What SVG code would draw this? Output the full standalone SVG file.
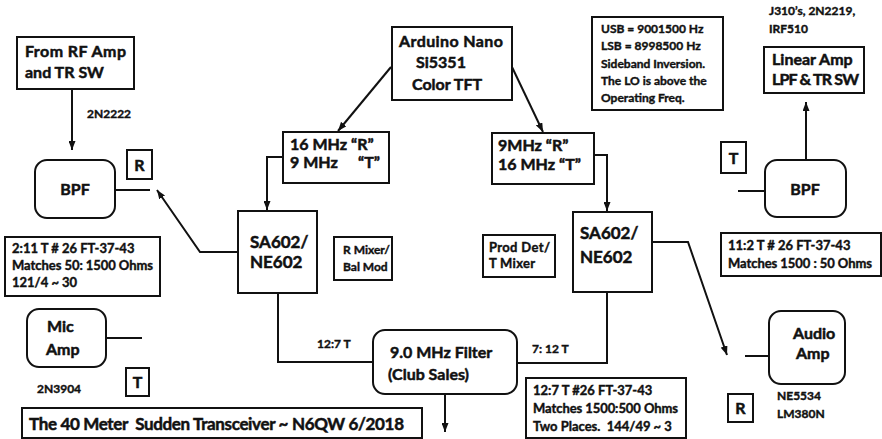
<svg xmlns="http://www.w3.org/2000/svg" width="882" height="439" viewBox="0 0 882 439">
<style>
.bx{fill:#fff;stroke:#111;stroke-width:2}
.ln{fill:none;stroke:#111;stroke-width:2}
.t{font-family:Lato,"Open Sans","Liberation Sans",sans-serif;font-weight:bold;fill:#111;stroke:#111;stroke-width:0.5}
.s16{font-size:16px}
.s17{font-size:17px}
.s12{font-size:12px;stroke-width:0.4}
.s13{font-size:13px;stroke-width:0.4}
.m{text-anchor:middle}
.pre{white-space:pre}
</style>
<defs>
<marker id="ah" markerUnits="userSpaceOnUse" markerWidth="9" markerHeight="7" refX="9" refY="3.5" orient="auto">
<path d="M0,0 L9,3.5 L0,7 z" fill="#111"/>
</marker>
</defs>
<rect width="882" height="439" fill="#fff"/>
<g id="connectors">
<line class="ln" x1="72" y1="89" x2="72" y2="150" marker-end="url(#ah)"/>
<line class="ln" x1="115" y1="190" x2="150" y2="190"/>
<path class="ln" d="M238,252 L200,252 L157,190" marker-end="url(#ah)"/>
<line class="ln" x1="391" y1="67" x2="338" y2="131" marker-end="url(#ah)"/>
<line class="ln" x1="512" y1="67" x2="543" y2="132" marker-end="url(#ah)"/>
<path class="ln" d="M283,157 L267,157 L267,210" marker-end="url(#ah)"/>
<path class="ln" d="M594,155 L607,155 L607,211" marker-end="url(#ah)"/>
<line class="ln" x1="106" y1="338" x2="142" y2="338"/>
<path class="ln" d="M278,293 L278,362 L373,362"/>
<line class="ln" x1="445" y1="394" x2="445" y2="432" marker-end="url(#ah)"/>
<path class="ln" d="M607,292 L607,363 L517,363"/>
<path class="ln" d="M652,242 L688,242 L727,355" marker-end="url(#ah)"/>
<line class="ln" x1="745" y1="356" x2="769" y2="356"/>
<line class="ln" x1="738" y1="191" x2="765" y2="191"/>
<line class="ln" x1="806" y1="160" x2="806" y2="102" marker-end="url(#ah)"/>
</g>
<g id="rfamp">
<rect class="bx" x="17" y="37" width="117" height="52"/>
<text class="t s16" x="25" y="57" textLength="101">From RF Amp</text>
<text class="t s16" x="25" y="78">and TR SW</text>
</g>
<g id="lbl-2n2222"><text class="t s12" x="87" y="118">2N2222</text></g>
<g id="bpf-left">
<rect class="bx" x="35" y="160" width="80" height="58" rx="12"/>
<text class="t s16 m" x="75" y="195">BPF</text>
</g>
<g id="r-left">
<rect class="bx" x="127" y="150" width="25" height="29"/>
<text class="t s16 m" x="139.5" y="171">R</text>
</g>
<g id="arduino">
<rect class="bx" x="392" y="27" width="120" height="73"/>
<text class="t s16" x="399" y="47" textLength="104">Arduino Nano</text>
<text class="t s16" x="416" y="68">Si5351</text>
<text class="t s16" x="412" y="90">Color TFT</text>
</g>
<g id="lo-left">
<rect class="bx" x="283" y="132" width="106" height="51"/>
<text class="t s16" x="290" y="150">16 MHz “R”</text>
<text class="t s16" x="290" y="168">9 MHz<tspan x="358">“T”</tspan></text>
</g>
<g id="lo-right">
<rect class="bx" x="492" y="133" width="102" height="51"/>
<text class="t s16" x="498" y="151">9MHz “R”</text>
<text class="t s16" x="498" y="170">16 MHz “T”</text>
</g>
<g id="usb-note">
<rect class="bx" x="592" y="17" width="131" height="93"/>
<text class="t s12" x="601" y="33">USB = 9001500 Hz</text>
<text class="t s12" x="601" y="50">LSB = 8998500 Hz</text>
<text class="t s12" x="601" y="68">Sideband Inversion.</text>
<text class="t s12" x="601" y="85">The LO is above the</text>
<text class="t s12" x="601" y="102">Operating Freq.</text>
</g>
<g id="lbl-j310">
<text class="t s12" x="769" y="15">J310’s, 2N2219,</text>
<text class="t s12" x="769" y="33">IRF510</text>
</g>
<g id="linear-amp">
<rect class="bx" x="764" y="47" width="100" height="46"/>
<text class="t s16" x="772" y="65">Linear Amp</text>
<text class="t s16" x="772" y="85" textLength="87">LPF &amp; TR SW</text>
</g>
<g id="t-right">
<rect class="bx" x="721" y="142" width="25" height="31"/>
<text class="t s16 m" x="733.5" y="164">T</text>
</g>
<g id="bpf-right">
<rect class="bx" x="765" y="160" width="81" height="57" rx="12"/>
<text class="t s16 m" x="805" y="195">BPF</text>
</g>
<g id="sa602-left">
<rect class="bx" x="238" y="211" width="79" height="82"/>
<text class="t s17" x="250" y="248">SA602/</text>
<text class="t s17" x="250" y="268">NE602</text>
</g>
<g id="rmixer">
<rect class="bx" x="334" y="237" width="58" height="43"/>
<text class="t s12" x="343" y="254">R Mixer/</text>
<text class="t s12" x="343" y="271">Bal Mod</text>
</g>
<g id="xfmr-left">
<rect class="bx" x="5" y="237" width="155" height="59"/>
<text class="t s13" x="12" y="253">2:11 T # 26 FT-37-43</text>
<text class="t s13" x="12" y="270" textLength="141">Matches 50: 1500 Ohms</text>
<text class="t s13" x="12" y="287">121/4 ~ 30</text>
</g>
<g id="mic-amp">
<rect class="bx" x="27" y="309" width="79" height="58" rx="12"/>
<text class="t s16" x="47" y="332">Mic</text>
<text class="t s16" x="46" y="355">Amp</text>
</g>
<g id="t-left">
<rect class="bx" x="126" y="368" width="23" height="28"/>
<text class="t s16 m" x="137.5" y="388">T</text>
</g>
<g id="lbl-2n3904"><text class="t s12" x="37" y="393">2N3904</text></g>
<g id="title">
<rect class="bx" x="22" y="408" width="400" height="30"/>
<text class="t s17 pre" x="29" y="430" textLength="375">The 40 Meter  Sudden Transceiver ~ N6QW 6/2018</text>
</g>
<g id="lbl-127"><text class="t s12" x="317" y="348">12:7 T</text></g>
<g id="filter">
<rect class="bx" x="373" y="330" width="144" height="64" rx="12"/>
<text class="t s16" x="390" y="358">9.0 MHz Filter</text>
<text class="t s16" x="388" y="380">(Club Sales)</text>
</g>
<g id="lbl-712"><text class="t s12" x="532" y="353">7: 12 T</text></g>
<g id="sa602-right">
<rect class="bx" x="573" y="212" width="79" height="80"/>
<text class="t s17" x="580" y="239">SA602/</text>
<text class="t s17" x="580" y="263">NE602</text>
</g>
<g id="prod-det">
<rect class="bx" x="483" y="235" width="72" height="42"/>
<text class="t s13" x="489" y="252" textLength="61">Prod Det/</text>
<text class="t s13" x="489" y="268" textLength="46">T Mixer</text>
</g>
<g id="xfmr-filter">
<rect class="bx" x="526" y="378" width="160" height="60"/>
<text class="t s13" x="533" y="395">12:7 T #26 FT-37-43</text>
<text class="t s13" x="533" y="413" textLength="145">Matches 1500:500 Ohms</text>
<text class="t s13 pre" x="533" y="431">Two Places.  144/49 ~ 3</text>
</g>
<g id="xfmr-right">
<rect class="bx" x="721" y="233" width="160" height="43"/>
<text class="t s13" x="728" y="250">11:2 T # 26 FT-37-43</text>
<text class="t s13" x="728" y="268" textLength="144">Matches 1500 : 50 Ohms</text>
</g>
<g id="audio-amp">
<rect class="bx" x="769" y="311" width="76" height="73" rx="12"/>
<text class="t s16" x="793" y="339">Audio</text>
<text class="t s16" x="796" y="359">Amp</text>
</g>
<g id="r-right">
<rect class="bx" x="728" y="394" width="25" height="28"/>
<text class="t s16 m" x="740.5" y="414">R</text>
</g>
<g id="lbl-ne5534">
<text class="t s12" x="777" y="400">NE5534</text>
<text class="t s12" x="777" y="418">LM380N</text>
</g>
</svg>
